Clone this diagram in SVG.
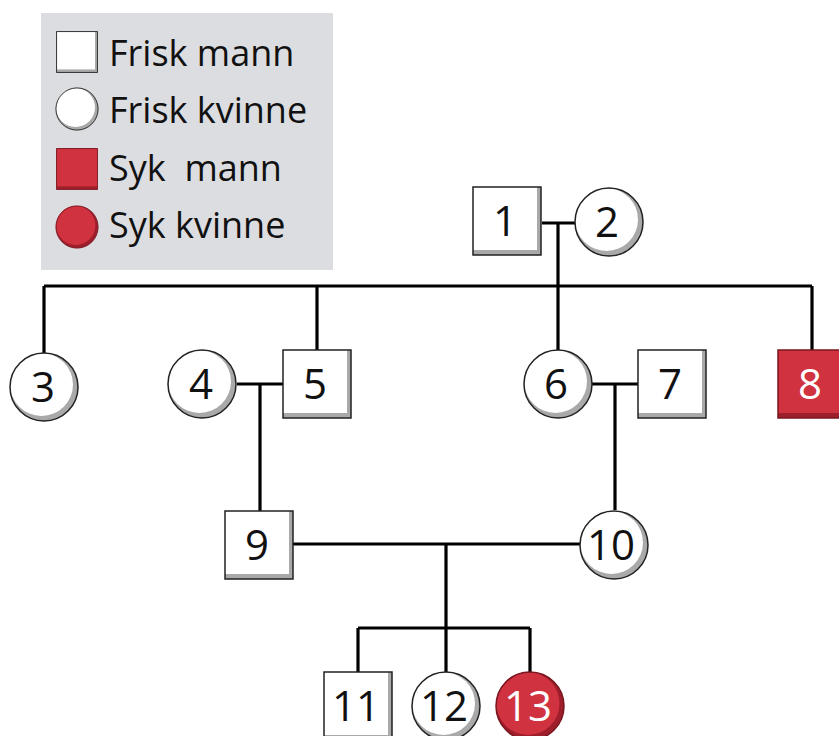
<svg xmlns="http://www.w3.org/2000/svg" width="839" height="736" viewBox="0 0 839 736">
<style>
.lbl{font-family:"Open Sans","Liberation Sans",sans-serif;font-size:36px;fill:#111}
.num{font-family:"Open Sans","Liberation Sans",sans-serif;font-size:42px;fill:#111;text-anchor:middle}
.numw{fill:#fff}
.ln{stroke:#000;stroke-width:3.2;fill:none}
.ol{fill:none;stroke:#222;stroke-width:1.5}
.olr{fill:none;stroke:#7a1620;stroke-width:1.5}
</style>
<defs>
<g id="sq">
<rect x="-34" y="-34" width="68" height="68" fill="#a9a9a9"/>
<rect x="-34" y="-34" width="64" height="63" fill="#fff"/>
<rect x="-34" y="-34" width="68" height="68" class="ol"/>
</g>
<g id="ci">
<circle r="34" fill="#a9a9a9"/>
<circle cx="-2.5" cy="-2.5" r="31.5" fill="#fff"/>
<circle r="34" class="ol"/>
</g>
<g id="sqr">
<rect x="-34" y="-34" width="68" height="68" fill="#9e1f2b"/>
<rect x="-34" y="-34" width="68" height="63" fill="#d0323f"/>
<rect x="-34" y="-34" width="68" height="68" class="olr"/>
</g>
<g id="cir">
<circle r="34" fill="#9e1f2b"/>
<circle cx="-2" cy="-2.5" r="31.5" fill="#d0323f"/>
<circle r="34" class="olr"/>
</g>
</defs>
<rect width="839" height="736" fill="#fff"/>
<g id="legend">
<rect x="41" y="13" width="292" height="257" fill="#dcdde0"/>
<g transform="translate(77,52) scale(0.6)"><use href="#sq"/></g>
<text class="lbl" x="109" y="66">Frisk mann</text>
<g transform="translate(77,109) scale(0.62)"><use href="#ci"/></g>
<text class="lbl" x="109" y="123">Frisk kvinne</text>
<g transform="translate(77,169) scale(0.6)"><use href="#sqr"/></g>
<text class="lbl" x="109" y="181" style="white-space:pre">Syk  mann</text>
<g transform="translate(77,227) scale(0.62)"><use href="#cir"/></g>
<text class="lbl" x="109" y="238">Syk kvinne</text>
</g>
<g id="connectors">
<path class="ln" d="M542 223H575M558 223V286M44 286H812M44 286V353M317 286V350M558 286V350M812 286V350"/>
<path class="ln" d="M237 384H283M260 384V511M592 384H638M615 384V510"/>
<path class="ln" d="M293 544H580M446 544V628M358 628H530M358 628V672M446 628V672M530 628V672"/>
</g>
<g id="n1"><use href="#sq" x="507" y="221"/><text class="num" x="505" y="236">1</text></g>
<g id="n2"><use href="#ci" x="609" y="222"/><text class="num" x="607" y="237">2</text></g>
<g id="n3"><use href="#ci" x="44" y="387"/><text class="num" x="43" y="402">3</text></g>
<g id="n4"><use href="#ci" x="202" y="384"/><text class="num" x="201" y="399">4</text></g>
<g id="n5"><use href="#sq" x="317" y="384"/><text class="num" x="315" y="399">5</text></g>
<g id="n6"><use href="#ci" x="558" y="384"/><text class="num" x="556" y="399">6</text></g>
<g id="n7"><use href="#sq" x="672" y="384"/><text class="num" x="670" y="399">7</text></g>
<g id="n8"><use href="#sqr" x="812" y="384"/><text class="num numw" x="810" y="399">8</text></g>
<g id="n9"><use href="#sq" x="259" y="545"/><text class="num" x="257" y="560">9</text></g>
<g id="n10"><use href="#ci" x="614" y="545"/><text class="num" x="611" y="560">10</text></g>
<g id="n11"><use href="#sq" x="358" y="706"/><text class="num" x="356" y="721">11</text></g>
<g id="n12"><use href="#ci" x="446" y="706"/><text class="num" x="444" y="721">12</text></g>
<g id="n13"><use href="#cir" x="530" y="706"/><text class="num numw" x="528" y="721">13</text></g>
</svg>
